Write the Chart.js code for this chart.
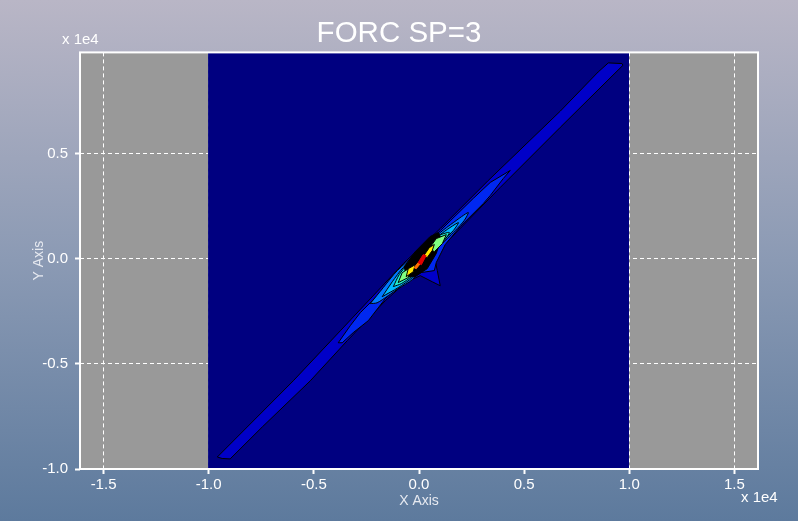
<!DOCTYPE html>
<html>
<head>
<meta charset="utf-8">
<title>FORC SP=3</title>
<script src="https://cdn.jsdelivr.net/npm/chart.js@4"></script>
<style>
    html, body { margin: 0; padding: 0; background: #7a8cab; }
    canvas { display: block; background: linear-gradient(180deg, #b9b6c6 0%, #8b9ab4 50%, #5d7a9d 100%); }
</style>
</head>
<body>
<canvas id="forcChart" width="798" height="521"></canvas>
<script>
// tick labels (values are x 1e4)
const xTicks = [-1.5, -1.0, -0.5, 0.0, 0.5, 1.0, 1.5];
const yTicks = [-1.0, -0.5, 0.0, 0.5];

// filled contour levels, lowest first
const fieldX = [-1.003, 0.9985, 0.9985, -1.003];
const fieldY = [-1, -1, 0.98, 0.98];

const band1X = [-0.959, -0.936, -0.898, -0.745, -0.517, -0.341, -0.160, -0.065, 0.006, 0.063, 0.101, 0.087, 0.077, 0.125, 0.386, 0.672, 0.970, 0.965, 0.900, 0.852, 0.672, 0.329, 0.101, -0.075, -0.374, -0.598];
const band1Y = [-0.943, -0.950, -0.952, -0.800, -0.581, -0.390, -0.200, -0.114, -0.081, -0.110, -0.129, -0.057, -0.010, 0.071, 0.338, 0.624, 0.919, 0.927, 0.930, 0.887, 0.701, 0.371, 0.143, -0.024, -0.343, -0.581];

const band2X = [-0.384, -0.327, -0.279, -0.160, -0.070, 0.101, 0.258, 0.339, 0.434, 0.401, 0.339, 0.306, 0.196, 0.125, 0.082, 0.073, 0.006, -0.065, -0.160, -0.241, -0.313, -0.365];
const band2Y = [-0.400, -0.319, -0.257, -0.138, -0.033, 0.133, 0.286, 0.362, 0.419, 0.381, 0.300, 0.262, 0.152, 0.067, -0.019, -0.057, -0.067, -0.105, -0.190, -0.295, -0.352, -0.400];

const band3X = [-0.232, -0.170, -0.103, 0.101, 0.163, 0.234, 0.215, 0.172, 0.134, 0.087, 0.030, -0.032, -0.099, -0.146, -0.199];
const band3Y = [-0.214, -0.138, -0.057, 0.124, 0.171, 0.219, 0.181, 0.133, 0.095, 0.048, -0.019, -0.100, -0.143, -0.176, -0.210];

const band4X = [-0.175, -0.127, -0.075, 0.101, 0.187, 0.163, 0.115, 0.053, -0.032, -0.099];
const band4Y = [-0.181, -0.110, -0.043, 0.114, 0.171, 0.133, 0.086, 0.010, -0.090, -0.138];

const band5X = [-0.122, -0.094, -0.056, 0.087, 0.144, 0.120, 0.063, -0.037, -0.084];
const band5Y = [-0.133, -0.076, -0.029, 0.105, 0.124, 0.086, 0.019, -0.086, -0.119];

const coreX = [-0.070, -0.018, 0.053, 0.092, 0.106, 0.082, 0.039, -0.018, -0.061];
const coreY = [-0.038, 0.033, 0.105, 0.124, 0.095, 0.024, -0.048, -0.086, -0.086];

const greenLowX = [-0.099, -0.080, -0.042, -0.051];
const greenLowY = [-0.114, -0.067, -0.043, -0.090];
const greenHighX = [0.049, 0.082, 0.130, 0.111, 0.073];
const greenHighY = [0.048, 0.095, 0.114, 0.071, 0.033];

const yellowLowX = [-0.061, -0.051, -0.018, -0.027];
const yellowLowY = [-0.086, -0.048, -0.029, -0.062];
const yellowHighX = [0.020, 0.049, 0.073, 0.063, 0.039];
const yellowHighY = [0.010, 0.052, 0.067, 0.038, 0.005];

const orangeX = [-0.023, -0.004, 0.006, -0.013];
const orangeY = [-0.043, -0.019, -0.024, -0.048];
const redX = [-0.004, 0.020, 0.034, 0.011];
const redY = [-0.019, 0.019, 0.014, -0.029];

function polygon(xs, ys, color, edge, tension = 0) {
    const points = xs.map((x, i) => ({ x: x, y: ys[i] }));
    points.push(points[0]); // close the shape
    return {
        data: points,
        showLine: true,
        fill: 'shape',
        backgroundColor: color,
        borderColor: edge,
        borderWidth: 1,
        pointRadius: 0,
        tension: tension
    };
}

// grey plot area, white frame and the two "x 1e4" notes
const plotDecor = {
    id: 'plotDecor',
    beforeDraw(chart) {
        const a = chart.chartArea;
        chart.ctx.fillStyle = '#999999';
        chart.ctx.fillRect(a.left, a.top, a.right - a.left, a.bottom - a.top);
    },
    afterDraw(chart) {
        const a = chart.chartArea, ctx = chart.ctx;
        ctx.save();
        ctx.strokeStyle = '#ffffff';
        ctx.lineWidth = 2;
        ctx.strokeRect(a.left, a.top, a.right - a.left, a.bottom - a.top);
        ctx.fillStyle = '#ffffff';
        ctx.font = '15px "Liberation Sans"';
        ctx.textBaseline = 'middle';
        ctx.fillText('x 1e4', 62, 40);
        ctx.fillText('x 1e4', 741, 498);
        ctx.restore();
    }
};

function axis(ticks, min, max, label) {
    return {
        type: 'linear',
        min: min,
        max: max,
        afterBuildTicks: scale => { scale.ticks = ticks.map(v => ({ value: v })); },
        border: { display: false, dash: [4, 3] },
        grid: {
            color: '#ffffff',
            lineWidth: 1,
            drawTicks: true,
            tickLength: 5,
            tickWidth: 2,
            tickColor: '#ffffff',
            tickBorderDash: []
        },
        ticks: {
            color: '#ffffff',
            font: { family: '"Liberation Sans"', size: 15 },
            autoSkip: false,
            maxRotation: 0,
            padding: 3,
            callback: v => v.toFixed(1)
        },
        title: {
            display: true,
            text: label,
            color: '#e6e9f0',
            font: { family: '"Liberation Sans"', size: 14 },
            padding: 0
        }
    };
}

const xAxis = axis(xTicks, -1.612, 1.612, 'X Axis');
xAxis.afterFit = scale => { scale.height = 52; };
xAxis.ticks.padding = 2;
xAxis.title.padding = { top: 0, bottom: 11 };

const yAxis = axis(yTicks, -1.0, 0.98, 'Y Axis');
yAxis.afterFit = scale => { scale.width = 80; };
yAxis.ticks.padding = 7;
yAxis.title.padding = { top: 31, bottom: 0 };

// empty axis on the right, only keeps the 40px margin so the title stays centred on the page
const marginAxis = {
    position: 'right',
    border: { display: false },
    grid: { display: false },
    ticks: { display: false },
    afterFit: scale => { scale.width = 40; }
};

// Chart.js paints the first dataset last, so the list goes from the top level down
const levels = [
    polygon(redX, redY, '#e00000', '#e00000'),
    polygon(orangeX, orangeY, '#ff7000', '#ff7000'),
    polygon(yellowHighX, yellowHighY, '#ffe800', '#000000'),
    polygon(yellowLowX, yellowLowY, '#ffe800', '#000000'),
    polygon(greenHighX, greenHighY, '#80ff80', '#000000'),
    polygon(greenLowX, greenLowY, '#80ff80', '#000000'),
    polygon(coreX, coreY, '#000000', '#000000'),
    polygon(band5X, band5Y, '#20f0d0', '#000000', 0.25),
    polygon(band4X, band4Y, '#00b8ff', '#000000', 0.25),
    polygon(band3X, band3Y, '#0078ff', '#000000', 0.25),
    polygon(band2X, band2Y, '#0028f0', '#000000'),
    polygon(band1X, band1Y, '#0000c8', '#000000'),
    polygon(fieldX, fieldY, '#000080', 'transparent')
];

new Chart(document.getElementById('forcChart').getContext('2d'), {
    type: 'scatter',
    data: { datasets: levels },
    options: {
        responsive: false,
        animation: false,
        scales: { x: xAxis, y: yAxis, margin: marginAxis },
        plugins: {
            legend: { display: false },
            tooltip: { enabled: false },
            title: {
                display: true,
                text: 'FORC SP=3',
                color: '#ffffff',
                font: { family: '"Liberation Sans"', size: 29.5, weight: 'normal' },
                padding: { top: 16, bottom: 1 }
            }
        }
    },
    plugins: [plotDecor]
});
</script>
</body>
</html>
